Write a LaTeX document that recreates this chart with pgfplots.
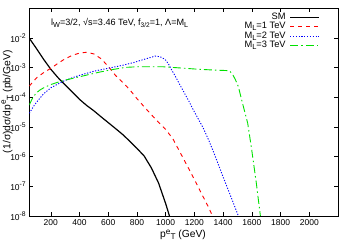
\documentclass[border=0pt]{standalone}
\usepackage{fontspec}
\setmainfont{Liberation Sans}
\usepackage{pgfplots}
\pgfplotsset{compat=1.18}
\definecolor{gpred}{RGB}{255,0,0}
\definecolor{gpblue}{RGB}{0,0,255}
\definecolor{gpgreen}{RGB}{0,225,0}
\newcommand{\sps}[1]{\raisebox{0.42em}{\fontsize{0.8\dimexpr\fontdimen6\font}{1em}\selectfont #1}}
\newcommand{\spx}[1]{\raisebox{0.34em}{\fontsize{0.8\dimexpr\fontdimen6\font}{1em}\selectfont #1}}
\newcommand{\sbs}[1]{\raisebox{-0.22em}{\fontsize{0.8\dimexpr\fontdimen6\font}{1em}\selectfont #1}}
\newcommand{\sbt}[1]{\raisebox{-0.22em}{\fontsize{0.72\dimexpr\fontdimen6\font}{1em}\selectfont #1}}
\begin{document}
\begin{tikzpicture}
\useasboundingbox (-29.3pt,-29pt) rectangle (320.7pt,216pt);
\begin{axis}[
  at={(0pt,0pt)}, anchor=south west,
  scale only axis, width=308.7pt, height=207.7pt,
  xmin=50, xmax=2200, ymin=1e-8, ymax=1e-1,
  ymode=log,
  font=\fontsize{10.3}{12}\selectfont,
  tick label style={font=\fontsize{8.5}{10}\selectfont},
  xtick={200,400,...,2000},
  ytick={1e-8,1e-7,1e-6,1e-5,1e-4,1e-3,1e-2},
  yticklabels={10\sps{-8},10\sps{-7},10\sps{-6},10\sps{-5},10\sps{-4},10\sps{-3},10\sps{-2}},
  minor tick num=0, minor ytick={},
  log basis y=10,
  tick align=inside, major tick length=4pt,
  /pgf/number format/assume math mode=true,
  /pgf/number format/1000 sep={},
  every tick/.style={black, line width=0.5pt},
  axis line style={line width=0.8pt},
  xlabel={p\spx{e}\sbs{T} (GeV)},
  ylabel={(1/σ)dσ/dp\sps{e}\sbs{T} (pb/GeV)},
  every axis x label/.style={at={(axis description cs:0.498,-0.104)}, anchor=base},
  every axis y label/.style={at={(axis description cs:-0.0722,0.55)}, rotate=90, anchor=center},
  legend style={at={(axis description cs:0.942,0.98)}, anchor=north east, draw=none, fill=none,
    inner sep=0pt, column sep=4pt, row sep=0pt,
    nodes={inner sep=0pt, text height=6.8pt, text depth=2.6pt},
    font=\fontsize{9.3}{11}\selectfont},
  legend cell align=right,
  legend plot pos=right,
  legend image code/.code={\draw[#1] (0pt,0pt) -- (29pt,0pt);},
  clip=true,
]
\addplot[black, line width=1.2pt] coordinates {
(50,9.8e-3) (100,4.4e-3) (150,1.9e-3) (200,8.8e-4) (250,4.6e-4) (300,2.6e-4)
(350,1.5e-4) (400,8.5e-5) (450,5.3e-5) (500,3.5e-5) (550,2.2e-5) (600,1.4e-5)
(650,8.9e-6) (700,5.6e-6) (750,3.3e-6) (800,1.9e-6) (850,1.05e-6) (900,4.2e-7)
(950,1.3e-7) (1000,2.6e-8) (1040,6e-9)};
\addlegendentry{SM}
\addplot[gpred, line width=0.9pt, dash pattern=on 4pt off 4pt] coordinates {
(50,2.4e-4) (100,4.5e-4) (150,6.8e-4) (200,9.5e-4) (250,1.4e-3) (300,2.0e-3)
(350,2.6e-3) (400,3.1e-3) (450,3.3e-3) (500,2.9e-3) (550,2.0e-3) (600,1.1e-3)
(650,5.5e-4) (700,3.2e-4) (750,1.8e-4) (800,9e-5) (850,4.8e-5) (900,2.6e-5)
(950,1.45e-5) (1000,8.2e-6) (1050,4e-6) (1100,1.4e-6) (1150,4.9e-7) (1200,1.7e-7)
(1250,5.6e-8) (1300,1.9e-8) (1340,7e-9)};
\addlegendentry{M\sbs{L}=1 TeV}
\addplot[gpblue, line width=0.9pt, dash pattern=on 1.2pt off 1.6pt] coordinates {
(50,2.88e-5) (80,5.01e-5) (113,8.13e-5) (150,1.32e-4) (200,2.09e-4) (250,2.82e-4)
(300,3.72e-4) (350,4.57e-4) (400,5.50e-4) (450,6.46e-4) (500,7.59e-4) (600,9.55e-4)
(700,1.20e-3) (775,1.48e-3) (850,1.91e-3) (900,2.24e-3) (925,2.45e-3) (960,2.34e-3)
(995,1.91e-3) (1020,1.32e-3) (1042,8.32e-4) (1070,4.79e-4) (1099,2.63e-4) (1130,1.41e-4)
(1157,8.13e-5) (1192,3.80e-5) (1230,1.74e-5) (1262,9.12e-6) (1300,3.55e-6) (1332,1.48e-6)
(1360,6.61e-7) (1390,2.75e-7) (1450,5.01e-8) (1500,1.20e-8) (1510,8.9e-9)};
\addlegendentry{M\sbs{L}=2 TeV}
\addplot[gpgreen, line width=0.9pt, dash pattern=on 8pt off 3pt on 1.5pt off 3pt] coordinates {
(50,5.50e-5) (65,7.94e-5) (78,1.05e-4) (100,1.41e-4) (125,1.78e-4) (150,2.09e-4)
(194,2.63e-4) (250,3.24e-4) (310,3.89e-4) (380,4.68e-4) (450,5.62e-4) (530,6.92e-4)
(612,8.32e-4) (717,1.02e-3) (800,1.07e-3) (983,1.07e-3) (1100,9.77e-4) (1216,8.91e-4)
(1330,8.32e-4) (1436,7.94e-4) (1450,7.24e-4) (1465,6.03e-4) (1485,3.98e-4) (1506,2.29e-4)
(1529,8.13e-5) (1550,3.31e-5) (1571,1.35e-5) (1599,1.70e-6) (1630,1.41e-7) (1657,1.26e-8)
(1665,6.3e-9)};
\addlegendentry{M\sbs{L}=3 TeV}
\node[anchor=base west, inner sep=0pt, font=\fontsize{9.1}{11}\selectfont] at (axis description cs:0.0703,0.915)
  {l\sbs{W}=3/2, √s=3.46 TeV, f\sbt{3/2}=1, Λ=M\sbs{L}};
\end{axis}
\end{tikzpicture}
\end{document}
